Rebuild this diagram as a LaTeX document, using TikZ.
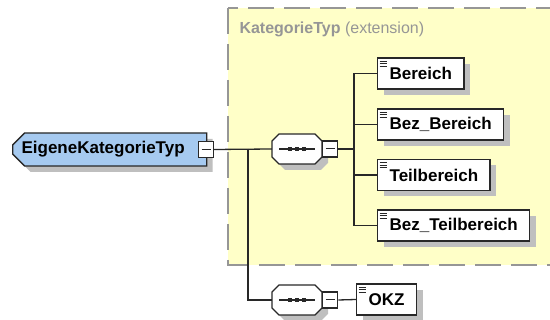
\documentclass[tikz,border=0pt]{standalone}
\usepackage{fontspec}
\setmainfont{Liberation Sans}
\usetikzlibrary{shapes.misc,shadows}
\definecolor{typblue}{RGB}{166,202,240}
\definecolor{extyellow}{RGB}{255,255,200}
\definecolor{extgray}{RGB}{150,150,150}
\definecolor{wire}{RGB}{40,40,40}
\tikzset{
  shade/.style={drop shadow={shadow xshift=6pt,shadow yshift=-6pt,fill=black!25,opacity=1}},
  elem/.style={draw=wire,line width=1.3pt,fill=white,anchor=west,minimum height=31pt,
    inner xsep=12pt,font=\fontsize{17}{17}\selectfont\bfseries,shade,
    path picture={\foreach \k in {3,5.5,8}
      \draw[wire,line width=0.9pt] ([xshift=2pt,yshift=-\k pt]path picture bounding box.north west) -- ++(7pt,0);}},
  seqline/.style={draw=wire,line width=1.3pt,fill=white},
  seqbox/.style={minimum width=50pt,minimum height=30pt,inner sep=0pt,
    path picture={\draw[wire,line width=1.1pt] ([xshift=7pt]path picture bounding box.west) -- ([xshift=-7pt]path picture bounding box.east);
      \foreach \d in {-7,0,7}
        \fill[wire] ([xshift=\d pt]path picture bounding box.center) +(-2.4pt,-2.4pt) rectangle +(2.4pt,2.4pt);}},
  minus/.style={draw=wire,line width=1.1pt,fill=white,minimum width=15pt,minimum height=16pt,inner sep=0pt,
    path picture={\draw[wire,line width=1pt] ([xshift=3pt]path picture bounding box.west) -- ([xshift=-3pt]path picture bounding box.east);}},
  wired/.style={draw=wire,line width=1.3pt}
}
%% octagon of a sequence, then its node
\newcommand\SeqAt[3]{%
  \draw[seqline,shade] (#2-18,#3-15) -- (#2+18,#3-15) -- (#2+25,#3-8) -- (#2+25,#3+8)
    -- (#2+18,#3+15) -- (#2-18,#3+15) -- (#2-25,#3+8) -- (#2-25,#3-8) -- cycle;
  \node[seqbox] (#1) at (#2,#3) {};}
\begin{document}
\begin{tikzpicture}[x=1pt,y=-1pt]

  \newcommand\ElX{377}
  \newcommand\SeqX{297}

  \useasboundingbox (0,0) rectangle (550,320);
  \clip (0,0) rectangle (550,320);

  %% extension area
  \draw[fill=extyellow,draw=extgray,line width=1.6pt,dash pattern=on 26pt off 10pt] (228,8) rectangle (570,265);
  \node[anchor=west,text=extgray,font=\fontsize{16}{16}\selectfont] (exthead) at (236,29)
    {\textbf{KategorieTyp} (extension)};

  %% type
  \node[chamfered rectangle,chamfered rectangle corners={north west,south west},chamfered rectangle sep=6pt,
    draw=wire,line width=1.3pt,fill=typblue,minimum width=194pt,minimum height=33pt,inner sep=0pt,
    anchor=west,font=\fontsize{17}{17}\selectfont\bfseries,shade] (typ) at (12,149.5)
    {EigeneKategorieTyp\hspace*{13pt}};
  \node[minus] (typmin) at (206,149.5) {};

  %% sequences
  \SeqAt{seqA}{\SeqX}{149}
  \node[minus,anchor=west] (seqAmin) at (seqA.east) {};
  \SeqAt{seqB}{\SeqX}{300}
  \node[minus,anchor=west] (seqBmin) at (seqB.east) {};

  %% elements
  \node[elem] (bereich) at (\ElX,73.5) {Bereich};
  \node[elem] (bezber) at (\ElX,124.5) {Bez\_Bereich};
  \node[elem] (teilber) at (\ElX,175) {Teilbereich};
  \node[elem] (bezteil) at (\ElX,225.5) {Bez\_Teilbereich};
  \node[elem] (okz) at (356,299.5) {OKZ};

  %% wiring
  \coordinate (fork) at (248,149);
  \coordinate (bus) at (354,149);
  \draw[wired] (typmin.east) -- (seqA.west);
  \draw[wired] (fork) |- (seqB.west);
  \draw[wired] (seqAmin.east) -- (bus);
  \foreach \e in {bereich,bezber,teilber,bezteil}
    \draw[wired] (bus) |- (\e.west);
  \draw[wired] (seqBmin.east) -- (okz.west);

\end{tikzpicture}
\end{document}
